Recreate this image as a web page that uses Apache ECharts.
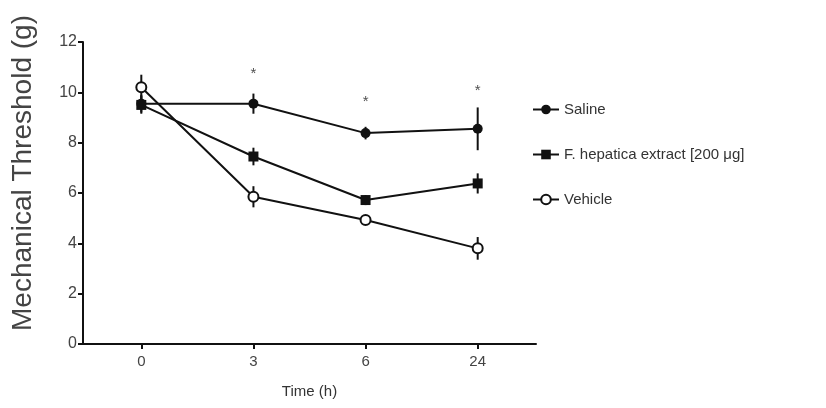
<!DOCTYPE html>
<html><head><meta charset="utf-8">
<script src="https://cdn.jsdelivr.net/npm/echarts@6/dist/echarts.min.js"></script>
<style>html,body{margin:0;padding:0;background:#fff}#c{width:826px;height:408px}</style>
</head><body><div id="c"></div>
<script>
var timeLabels = ['0', '3', '6', '24'];
var seriesNames = ['Saline', 'F. hepatica extract [200 \u03bcg]', 'Vehicle'];
var salineMean = [9.55, 9.55, 8.38, 8.55];
var salineErr = [0.35, 0.4, 0.25, 0.85];
var hepaticaMean = [9.5, 7.45, 5.72, 6.38];
var hepaticaErr = [0.35, 0.35, 0.2, 0.4];
var vehicleMean = [10.2, 5.85, 4.93, 3.8];
var vehicleErr = [0.5, 0.42, 0.15, 0.45];
var starPositions = [1, 2, 3];
var starValues = [10.75, 9.62, 10.05];
var yTicks = [0, 2, 4, 6, 8, 10, 12];

var font = 'Liberation Sans, Arial, sans-serif';
function pts(m){ return m.map(function(v,i){return [i,v];}); }
function errData(m,e){ return m.map(function(v,i){return [i, v-e[i], v+e[i]];}); }
function errSeries(m,e){
  return {
    type:'custom', silent:true, z:3,
    data: errData(m,e),
    renderItem: function(params, api){
      var lo = api.coord([api.value(0), api.value(1)]);
      var hi = api.coord([api.value(0), api.value(2)]);
      return {type:'line', shape:{x1:lo[0],y1:lo[1],x2:hi[0],y2:hi[1]}, style:{stroke:'#111', lineWidth:2}};
    }
  };
}
var chart = echarts.init(document.getElementById('c'));
chart.setOption({
  animation:false,
  backgroundColor:'#fff',
  grid:{left:83, right:290, top:42, bottom:64},
  legend:{
    orient:'vertical', left:527, top:97, itemGap:30, itemWidth:26, itemHeight:12,
    textStyle:{fontFamily:font, fontSize:15, color:'#333'},
    data: seriesNames
  },
  xAxis:{
    type:'value', min:-0.52, max:3.52, interval:1,
    axisLine:{onZero:false, lineStyle:{color:'#111', width:2}},
    axisTick:{show:true, length:5, lineStyle:{color:'#111', width:2}, customValues:[0,1,2,3]},
    axisLabel:{fontFamily:font, fontSize:15, color:'#444', margin:10, customValues:[0,1,2,3],
      formatter:function(v){ var i=Math.round(v); return (Math.abs(v-i)<1e-6 && i>=0 && i<timeLabels.length) ? timeLabels[i] : ''; }},
    splitLine:{show:false},
    name:'Time (h)', nameLocation:'middle', nameGap:40,
    nameTextStyle:{fontFamily:font, fontSize:15, color:'#333'}
  },
  yAxis:{
    type:'value', min:0, max:12, interval:2,
    axisLine:{show:true, onZero:false, lineStyle:{color:'#111', width:2}},
    axisTick:{show:true, length:5, lineStyle:{color:'#111', width:2}},
    axisLabel:{fontFamily:font, fontSize:16, color:'#444', margin:6,
      formatter:function(v){ return yTicks.indexOf(v)>=0 ? String(v) : ''; }},
    splitLine:{show:false},
    name:'Mechanical Threshold (g)', nameLocation:'middle', nameGap:46,
    nameTextStyle:{fontFamily:font, fontSize:28, color:'#444', padding:[0,0,0,40]}
  },
  series:[
    errSeries(salineMean, salineErr),
    errSeries(hepaticaMean, hepaticaErr),
    errSeries(vehicleMean, vehicleErr),
    {name:seriesNames[0], type:'line', data:pts(salineMean), symbol:'circle', symbolSize:10, z:5,
      lineStyle:{color:'#111', width:2}, itemStyle:{color:'#111'}},
    {name:seriesNames[1], type:'line', data:pts(hepaticaMean), symbol:'rect', symbolSize:10, z:5,
      lineStyle:{color:'#111', width:2}, itemStyle:{color:'#111'}},
    {name:seriesNames[2], type:'line', data:pts(vehicleMean), symbol:'emptyCircle', symbolSize:10, z:6,
      lineStyle:{color:'#111', width:2}, itemStyle:{color:'#111', borderColor:'#111', borderWidth:2}},
    {type:'scatter', silent:true, symbolSize:0, data: starPositions.map(function(p,i){return [p, starValues[i]];}),
      label:{show:true, position:'inside', formatter:'*', fontFamily:font, fontSize:15, color:'#222'}}
  ]
});
</script></body></html>
